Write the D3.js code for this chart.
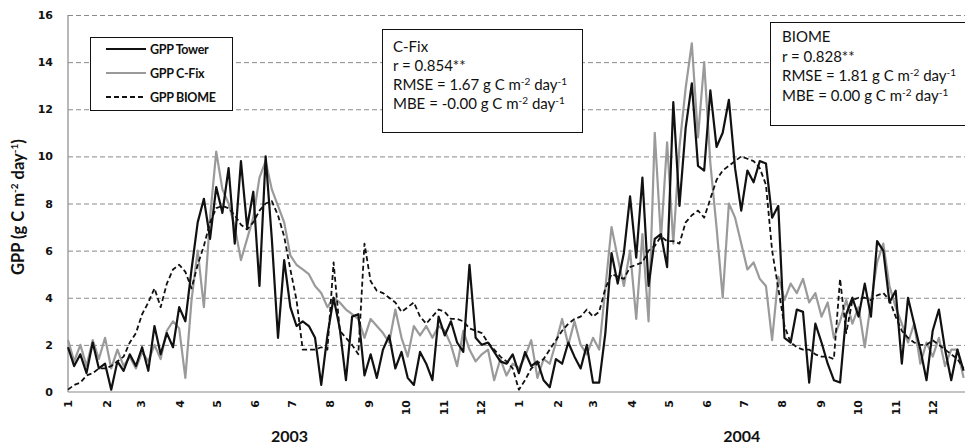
<!DOCTYPE html>
<html>
<head>
<meta charset="utf-8">
<script src="https://cdn.jsdelivr.net/npm/d3@7/dist/d3.min.js"></script>
<style>
  body { margin: 0; background: #fff; }
  svg { display: block; }
  .tick-lbl { font-family: "DejaVu Sans", sans-serif; font-weight: bold; font-size: 11px; fill: #111; }
  .box-text { font-family: Lato, "Open Sans", sans-serif; font-size: 15px; fill: #111; }
  .legend-text { font-family: Lato, "Open Sans", sans-serif; font-weight: bold; font-size: 12.5px; fill: #111; }
  .title-text { font-family: Lato, "Open Sans", sans-serif; font-weight: bold; fill: #111; }
</style>
</head>
<body>
<svg width="965" height="447"></svg>
<script>
// ---- data (5-day steps from 1 Jan 2003) ----
var startDate = new Date(2003, 0, 1);
var stepDays = 5;

var gppTower = [
  1.9, 1.1, 1.6, 0.8, 2.1, 1.0, 1.2, 0.1, 1.3, 0.9, 1.6, 1.1,
  1.9, 0.9, 2.8, 1.6, 2.5, 1.9, 3.6, 3.0, 5.2, 7.2, 8.2, 6.5,
  8.7, 7.6, 9.5, 6.3, 9.8, 7.0, 8.5, 4.5, 10.0, 6.5, 2.3, 5.6,
  3.6, 2.8, 3.0, 2.8, 2.3, 0.3, 2.4, 4.0, 2.7, 0.5, 3.2, 3.3,
  0.7, 1.6, 0.6, 1.8, 2.4, 1.0, 1.7, 0.6, 0.3, 1.7, 1.2, 0.5,
  3.2, 2.4, 3.0, 2.1, 1.7, 5.4, 2.3, 2.0, 2.1, 1.7, 1.3, 1.2,
  1.6, 0.8, 1.7, 1.1, 1.3, 0.5, 0.2, 1.4, 1.2, 2.1, 1.5, 1.0,
  2.0, 0.4, 0.4, 2.5, 5.9, 4.6, 5.9, 8.3, 5.7, 9.1, 4.5, 6.5,
  6.7, 5.3, 12.3, 7.9, 11.2, 13.1, 9.6, 9.4, 12.8, 10.4, 11.0, 12.4,
  9.5, 7.7, 9.4, 8.9, 9.8, 9.7, 7.4, 7.9, 2.3, 2.1, 3.5, 3.4,
  0.4, 2.9, 2.1, 1.2, 0.5, 0.4, 3.3, 4.0, 3.2, 4.6, 3.2, 6.4,
  6.0, 3.8, 4.3, 1.2, 4.0, 2.9, 1.8, 0.5, 2.6, 3.5, 1.8, 0.5,
  1.8, 0.9
];

var gppCFix = [
  2.2, 1.3, 2.0, 1.1, 2.2, 1.4, 2.3, 1.0, 1.8, 1.1, 1.5, 1.0,
  1.7, 1.3, 2.0, 1.4, 2.6, 3.0, 2.7, 0.6, 3.9, 6.0, 3.6, 7.4,
  10.2, 8.6, 8.0, 7.0, 5.6, 6.5, 7.4, 9.1, 9.8, 8.6, 7.9, 7.2,
  5.8, 5.4, 5.2, 5.0, 4.5, 4.2, 3.6, 4.0, 3.8, 3.5, 3.3, 3.1,
  2.3, 3.1, 2.8, 2.5, 2.1, 3.5, 2.3, 1.5, 2.8, 2.4, 2.8, 2.3,
  2.8, 2.6, 2.0, 1.1, 2.6, 1.8, 1.3, 1.6, 1.8, 0.5, 1.4, 0.7,
  1.2, 1.0, 1.5, 2.2, 0.6, 1.4, 1.2, 2.1, 3.1, 2.0, 3.0, 2.0,
  1.6, 2.3, 1.8, 4.4, 7.0, 5.7, 4.5, 6.0, 3.1, 6.7, 3.0, 11.0,
  6.5, 10.6, 6.3, 10.4, 12.9, 14.8, 10.8, 14.0, 9.7, 7.0, 4.0, 8.0,
  7.4, 6.3, 5.2, 5.5, 4.8, 4.5, 2.2, 4.9, 3.9, 4.6, 4.2, 4.8,
  3.8, 4.2, 3.2, 3.8, 2.3, 3.0, 3.9, 2.9, 3.6, 1.9, 3.8, 5.5,
  6.3, 4.5, 3.6, 2.9, 2.1, 2.9, 1.2, 2.1, 1.5, 2.3, 1.1, 1.8,
  1.8, 0.6
];

var gppBiome = [
  0.1, 0.3, 0.4, 0.7, 0.8, 1.0, 1.0, 1.1, 1.3, 1.5, 2.1, 2.5,
  3.3, 3.8, 4.4, 3.6, 4.6, 5.2, 5.4, 5.1, 4.4, 5.4, 6.2, 7.2,
  7.8, 7.9, 7.8, 7.5, 7.1, 6.9, 7.2, 7.7, 8.0, 8.1, 7.5, 6.6,
  5.2, 3.9, 1.8, 1.8, 1.8, 1.9, 1.8, 5.5, 2.6, 2.3, 2.0, 1.6,
  6.3, 4.7, 4.3, 4.2, 4.0, 3.8, 3.4, 3.6, 3.8, 3.2, 2.9, 3.2,
  3.5, 3.4, 3.1, 3.1, 3.0, 2.7, 2.6, 2.5, 2.1, 1.8, 1.5, 1.3,
  1.0, 0.1, 0.5, 1.0, 1.2, 1.4, 1.8, 2.2, 2.6, 2.9, 3.1, 3.2,
  3.5, 3.2, 3.4, 4.4, 5.0, 4.9, 4.8, 5.3, 5.4, 5.5, 6.0, 6.2,
  6.6, 6.4, 6.4, 6.3, 7.2, 7.5, 7.7, 7.4, 8.2, 9.0, 9.4, 9.6,
  9.8, 10.0, 9.9, 9.8, 9.5, 8.8, 6.0, 4.4, 2.8, 2.1, 1.9, 1.8,
  1.8, 1.6, 1.5, 1.5, 1.4, 4.8, 2.5, 3.9, 4.0, 4.0, 3.9, 4.1,
  4.2, 3.9, 3.2, 2.6, 2.3, 2.1, 2.0, 2.0, 2.2, 2.0, 1.8, 1.6,
  1.4, 1.0
];

var yTicks = [0, 2, 4, 6, 8, 10, 12, 14, 16];
var yearLabels = ["2003", "2004"];

var legendItems = [
  { name: "GPP Tower", key: "tower" },
  { name: "GPP C-Fix", key: "cfix" },
  { name: "GPP BIOME", key: "biome" }
];

var cfixStats = ["C-Fix", "r = 0.854**", "RMSE = 1.67", "MBE = -0.00"];
var biomeStats = ["BIOME", "r = 0.828**", "RMSE = 1.81", "MBE = 0.00"];

// ---- styles per series ----
var styles = {
  tower: { color: "#111", width: 2.2, dash: null },
  cfix:  { color: "#9a9a9a", width: 2.2, dash: null },
  biome: { color: "#111", width: 1.8, dash: "5,3" }
};

var svg = d3.select("svg");

var x = d3.scaleTime()
  .domain([new Date(2003, 0, 1), new Date(2005, 0, 1)])
  .range([68, 971]);

var y = d3.scaleLinear()
  .domain([0, 16])
  .range([392, 15]);

function toSeries(values) {
  return values.map(function(v, i) {
    return { date: d3.timeDay.offset(startDate, i * stepDays), value: v };
  });
}

// grid lines
svg.append("g")
  .attr("transform", "translate(68,0)")
  .call(d3.axisLeft(y).tickValues(yTicks.slice(1)).tickSize(-900).tickFormat(""))
  .call(g => g.select(".domain").remove())
  .selectAll("line")
  .attr("stroke", "#8a8a8a")
  .attr("stroke-width", 1)
  .attr("stroke-dasharray", "5,3");

// y axis labels
svg.append("g")
  .attr("transform", "translate(68,0)")
  .call(d3.axisLeft(y).tickValues(yTicks).tickSize(0).tickPadding(15))
  .call(g => g.select(".domain").remove())
  .selectAll("text")
  .attr("class", "tick-lbl");

// x axis (month ticks)
var months = d3.timeMonth.range(new Date(2003, 0, 1), new Date(2005, 0, 1));
svg.append("g")
  .attr("transform", "translate(0,392)")
  .call(d3.axisBottom(x).tickValues(months).tickSize(0).tickFormat(d => d.getMonth() + 1))
  .call(g => g.select(".domain").remove())
  .selectAll("text")
  .attr("class", "tick-lbl")
  .attr("transform", "rotate(-90)")
  .attr("text-anchor", "end")
  .attr("x", -8)
  .attr("y", 0)
  .attr("dy", "0.36em");

// axis lines
svg.append("line")
  .attr("x1", 68).attr("x2", 68).attr("y1", 15).attr("y2", 392)
  .attr("stroke", "#8a8a8a").attr("stroke-width", 1.2);
svg.append("line")
  .attr("x1", 68).attr("x2", 965).attr("y1", 392).attr("y2", 392)
  .attr("stroke", "#8a8a8a").attr("stroke-width", 1.2);

// lines
var line = d3.line()
  .x(d => x(d.date))
  .y(d => y(d.value));

var seriesData = { cfix: gppCFix, tower: gppTower, biome: gppBiome };

["cfix", "tower", "biome"].forEach(function(key) {
  var st = styles[key];
  svg.append("path")
    .datum(toSeries(seriesData[key]))
    .attr("fill", "none")
    .attr("stroke", st.color)
    .attr("stroke-width", st.width)
    .attr("stroke-linejoin", "round")
    .attr("stroke-dasharray", st.dash)
    .attr("d", line);
});

// year labels
svg.selectAll(".year")
  .data(yearLabels)
  .enter()
  .append("text")
  .attr("class", "title-text")
  .attr("x", d => x(new Date(+d, 6, 1)) - 2)
  .attr("y", 442)
  .attr("text-anchor", "middle")
  .style("font-size", "16px")
  .text(d => d);

// y axis title
var yTitle = svg.append("text")
  .attr("class", "title-text")
  .attr("transform", "translate(24,207) rotate(-90)")
  .attr("text-anchor", "middle")
  .style("font-size", "16.5px");
yTitle.append("tspan").text("GPP (g C m");
yTitle.append("tspan").attr("dy", -6).style("font-size", "10px").text("-2");
yTitle.append("tspan").attr("dy", 6).text(" day");
yTitle.append("tspan").attr("dy", -6).style("font-size", "10px").text("-1");
yTitle.append("tspan").attr("dy", 6).text(")");

// legend
svg.append("rect")
  .attr("x", 90.5).attr("y", 37.5).attr("width", 142).attr("height", 73)
  .attr("fill", "#fff").attr("stroke", "#111").attr("stroke-width", 1);

legendItems.forEach(function(item, i) {
  var st = styles[item.key];
  var ly = 49 + i * 24;
  svg.append("line")
    .attr("x1", 106).attr("x2", 146).attr("y1", ly).attr("y2", ly)
    .attr("stroke", st.color).attr("stroke-width", 2.2)
    .attr("stroke-dasharray", st.dash);
  svg.append("text")
    .attr("class", "legend-text")
    .attr("x", 150).attr("y", ly + 4.5)
    .style("letter-spacing", "-0.3px")
    .text(item.name);
});

// stats boxes
function statsBox(lines, bx, by, bw, bh, tx, ty0, dy) {
  svg.append("rect")
    .attr("x", bx + 0.5).attr("y", by + 0.5).attr("width", bw).attr("height", bh)
    .attr("fill", "#fff").attr("stroke", "#111").attr("stroke-width", 1);
  lines.forEach(function(t, i) {
    var txt = svg.append("text")
      .attr("class", "box-text")
      .attr("x", tx).attr("y", ty0 + i * dy);
    txt.append("tspan").text(t);
    if (i >= 2) {
      txt.append("tspan").text(" g C m");
      txt.append("tspan").attr("dy", -5).style("font-size", "10px").text("-2");
      txt.append("tspan").attr("dy", 5).text(" day");
      txt.append("tspan").attr("dy", -5).style("font-size", "10px").text("-1");
    }
  });
}

statsBox(cfixStats, 382, 29, 200, 103, 393, 52, 19);
statsBox(biomeStats, 770, 22, 200, 103, 782, 42, 19.5);
</script>
</body>
</html>
